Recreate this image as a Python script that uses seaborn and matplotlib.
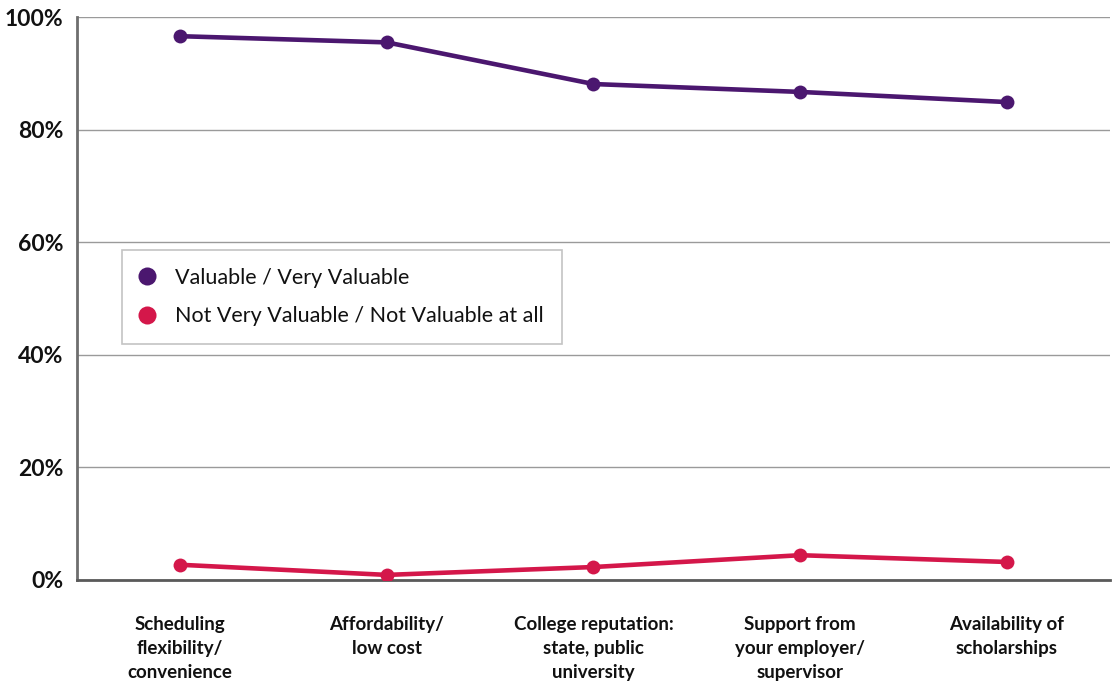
import matplotlib
matplotlib.use("Agg")
import matplotlib.pyplot as plt
import seaborn as sns
import pandas as pd
from matplotlib.ticker import FuncFormatter

categories = [
    "Scheduling\nflexibility/\nconvenience",
    "Affordability/\nlow cost",
    "College reputation:\nstate, public\nuniversity",
    "Support from\nyour employer/\nsupervisor",
    "Availability of\nscholarships",
]
valuable = [96.6, 95.5, 88.1, 86.7, 84.9]
not_valuable = [2.7, 0.9, 2.3, 4.4, 3.2]
series_names = ["Valuable / Very Valuable", "Not Very Valuable / Not Valuable at all"]
y_ticks = [0, 20, 40, 60, 80, 100]

df = pd.DataFrame({
    "category": categories * 2,
    "value": valuable + not_valuable,
    "series": [series_names[0]] * len(categories) + [series_names[1]] * len(categories),
})

sns.set_theme(style="white")
plt.rcParams["font.family"] = ["Lato", "DejaVu Sans"]

palette = {series_names[0]: "#4B176F", series_names[1]: "#D4174A"}

fig = plt.figure(figsize=(11.15, 6.82), dpi=100)
ax = fig.add_axes([0.069, 0.1496, 0.9265, 0.8254])

sns.lineplot(
    data=df, x="category", y="value", hue="series", palette=palette,
    marker="o", markersize=10, markeredgewidth=0, linewidth=3.3,
    sort=False, ax=ax, zorder=3,
)

ax.set_xlim(-0.5, len(categories) - 0.5)
ax.set_ylim(0, 100)
ax.set_yticks(y_ticks)
ax.yaxis.set_major_formatter(FuncFormatter(lambda v, p: f"{int(v)}%"))
ax.grid(axis="y", color="#9a9a9a", linewidth=1.0)
ax.grid(axis="x", visible=False)
ax.set_axisbelow(True)
ax.set_xlabel("")
ax.set_ylabel("")

for side in ["top", "right"]:
    ax.spines[side].set_visible(False)
ax.spines["left"].set_color("#6e6e6e")
ax.spines["left"].set_linewidth(2.0)
ax.spines["bottom"].set_color("#5a5a5a")
ax.spines["bottom"].set_linewidth(2.0)

ax.tick_params(axis="y", length=0, pad=10, labelsize=16.5, labelcolor="#111111")
ax.tick_params(axis="x", length=0, pad=26, labelsize=13.5, labelcolor="#111111")
for lbl in ax.get_yticklabels():
    lbl.set_fontweight("bold")
for lbl in ax.get_xticklabels():
    lbl.set_fontweight("bold")
    lbl.set_linespacing(1.5)

handles, labels = ax.get_legend_handles_labels()
leg = ax.legend(
    handles, labels, loc="upper left", bbox_to_anchor=(0.044, 0.587),
    frameon=True, fancybox=False, edgecolor="#b5b5b5", fontsize=15.5,
    handlelength=0.6, handletextpad=1.0, borderpad=0.85, labelspacing=0.85,
    borderaxespad=0,
)
leg.get_frame().set_linewidth(1.2)
for h in leg.legend_handles:
    h.set_linestyle("none")
    h.set_markersize(13)
for t in leg.get_texts():
    t.set_color("#111111")

fig.savefig("out.png", dpi=100)
